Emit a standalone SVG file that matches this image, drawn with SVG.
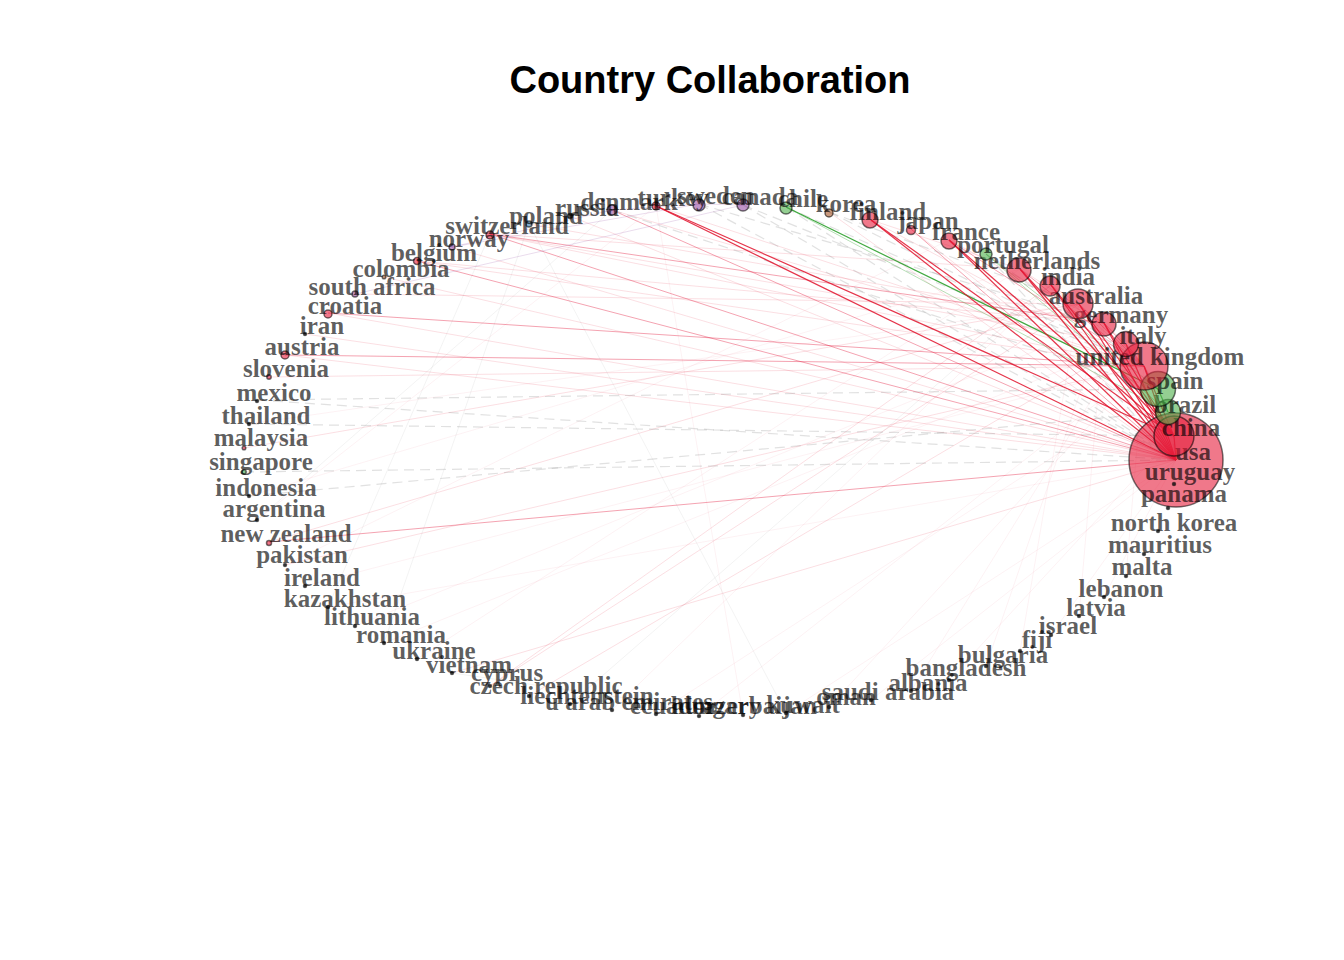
<svg xmlns="http://www.w3.org/2000/svg" width="1344" height="960" viewBox="0 0 1344 960">
<style>
.bg{fill:#fff}
.title{font-family:"Liberation Sans",Arial,sans-serif;font-weight:bold;font-size:38px;fill:#000;text-anchor:middle}
.lbl{font-family:"Liberation Serif","Times New Roman",serif;font-weight:bold;font-size:25px;fill:#000;fill-opacity:0.64;text-anchor:middle}
#edges line{fill:none}
.s{stroke:#E0102A;stroke-opacity:0.85;stroke-width:1.2}
.m{stroke:#E41A3C;stroke-opacity:0.4;stroke-width:1}
.l{stroke:#E41A3C;stroke-opacity:0.14;stroke-width:1}
.f{stroke:#E41A3C;stroke-opacity:0.06;stroke-width:1}
.gr{stroke:#999;stroke-opacity:0.12;stroke-width:1}
.g{stroke:#2CA02C;stroke-opacity:0.9;stroke-width:1.2}
.gl{stroke:#4DAF4A;stroke-opacity:0.4;stroke-width:1}
.p{stroke:#984EA3;stroke-opacity:0.2;stroke-width:1}
.d{stroke:#888;stroke-opacity:0.25;stroke-width:1.2;stroke-dasharray:10 6}
.red{fill:rgb(230,30,60);fill-opacity:0.6}
.grn{fill:#4DAF4A;fill-opacity:0.6}
.pur{fill:#984EA3;fill-opacity:0.6}
.blu{fill:#377EB8;fill-opacity:0.6}
.brn{fill:#A65628;fill-opacity:0.6}
.blk{fill:#222;fill-opacity:0.8}
.node circle{stroke:#000;stroke-opacity:0.55;stroke-width:1.5}
</style>
<rect class="bg" x="0" y="0" width="1344" height="960"/>
<text class="title" x="710" y="93">Country Collaboration</text>
<g id="edges">
<line class="f" x1="305" y1="586" x2="1144" y2="366"/>
<line class="f" x1="328" y1="607" x2="1176" y2="460"/>
<line class="f" x1="355" y1="626" x2="1104" y2="323"/>
<line class="f" x1="384" y1="643" x2="1126" y2="344"/>
<line class="f" x1="417" y1="659" x2="1020" y2="269"/>
<line class="f" x1="612" y1="710" x2="1051" y2="285"/>
<line class="f" x1="656" y1="714" x2="1158" y2="389"/>
<line class="f" x1="699" y1="716" x2="1144" y2="366"/>
<line class="f" x1="743" y1="715" x2="656" y2="206"/>
<line class="f" x1="786" y1="713" x2="1176" y2="460"/>
<line class="f" x1="829" y1="707" x2="1144" y2="366"/>
<line class="f" x1="871" y1="700" x2="1176" y2="460"/>
<line class="f" x1="911" y1="691" x2="1126" y2="344"/>
<line class="f" x1="949" y1="680" x2="1174" y2="436"/>
<line class="f" x1="986" y1="666" x2="1104" y2="323"/>
<line class="f" x1="1020" y1="651" x2="1079" y2="304"/>
<line class="f" x1="1051" y1="635" x2="1176" y2="460"/>
<line class="f" x1="1079" y1="616" x2="1104" y2="323"/>
<line class="f" x1="1104" y1="597" x2="1176" y2="460"/>
<line class="f" x1="1126" y1="576" x2="1144" y2="366"/>
<line class="f" x1="249" y1="424" x2="1079" y2="304"/>
<line class="f" x1="249" y1="496" x2="1020" y2="269"/>
<line class="f" x1="257" y1="520" x2="656" y2="206"/>
<line class="f" x1="285" y1="565" x2="949" y2="240"/>
<line class="gr" x1="384" y1="643" x2="529" y2="224"/>
<line class="gr" x1="328" y1="607" x2="490" y2="234"/>
<line class="gr" x1="257" y1="520" x2="612" y2="210"/>
<line class="gr" x1="452" y1="673" x2="743" y2="715"/>
<line class="gr" x1="570" y1="704" x2="1051" y2="285"/>
<line class="gr" x1="786" y1="713" x2="529" y2="224"/>
<line class="l" x1="328" y1="313" x2="1176" y2="460"/>
<line class="l" x1="285" y1="355" x2="1176" y2="460"/>
<line class="l" x1="490" y1="234" x2="1144" y2="366"/>
<line class="l" x1="490" y1="234" x2="1126" y2="344"/>
<line class="l" x1="490" y1="234" x2="1020" y2="269"/>
<line class="l" x1="452" y1="247" x2="1176" y2="460"/>
<line class="l" x1="417" y1="261" x2="1104" y2="323"/>
<line class="l" x1="417" y1="261" x2="1144" y2="366"/>
<line class="l" x1="384" y1="277" x2="1176" y2="460"/>
<line class="l" x1="355" y1="294" x2="1079" y2="304"/>
<line class="l" x1="305" y1="334" x2="1176" y2="460"/>
<line class="l" x1="269" y1="377" x2="1144" y2="366"/>
<line class="l" x1="244" y1="448" x2="1079" y2="304"/>
<line class="l" x1="269" y1="542" x2="1079" y2="304"/>
<line class="l" x1="490" y1="686" x2="1051" y2="285"/>
<line class="l" x1="490" y1="686" x2="1079" y2="304"/>
<line class="l" x1="529" y1="696" x2="1126" y2="344"/>
<line class="l" x1="452" y1="673" x2="1176" y2="460"/>
<line class="l" x1="285" y1="565" x2="1144" y2="366"/>
<line class="l" x1="570" y1="216" x2="1176" y2="460"/>
<line class="l" x1="529" y1="224" x2="1104" y2="323"/>
<line class="l" x1="911" y1="229" x2="1174" y2="436"/>
<line class="l" x1="829" y1="212" x2="1176" y2="460"/>
<line class="l" x1="871" y1="220" x2="1144" y2="366"/>
<line class="l" x1="871" y1="220" x2="1020" y2="269"/>
<line class="l" x1="949" y1="240" x2="1104" y2="323"/>
<line class="l" x1="1051" y1="285" x2="1144" y2="366"/>
<line class="l" x1="1020" y1="269" x2="1104" y2="323"/>
<line class="l" x1="1051" y1="285" x2="1079" y2="304"/>
<line class="l" x1="612" y1="210" x2="1144" y2="366"/>
<line class="l" x1="656" y1="206" x2="1144" y2="366"/>
<line class="l" x1="1104" y1="323" x2="1126" y2="344"/>
<line class="m" x1="328" y1="313" x2="1144" y2="366"/>
<line class="m" x1="285" y1="355" x2="1144" y2="366"/>
<line class="m" x1="490" y1="234" x2="1176" y2="460"/>
<line class="m" x1="490" y1="234" x2="1104" y2="323"/>
<line class="m" x1="911" y1="229" x2="1176" y2="460"/>
<line class="m" x1="417" y1="261" x2="1176" y2="460"/>
<line class="m" x1="269" y1="542" x2="1176" y2="460"/>
<line class="m" x1="612" y1="210" x2="1176" y2="460"/>
<line class="m" x1="1079" y1="304" x2="1144" y2="366"/>
<line class="m" x1="1104" y1="323" x2="1144" y2="366"/>
<line class="m" x1="1126" y1="344" x2="1144" y2="366"/>
<line class="m" x1="1020" y1="269" x2="1144" y2="366"/>
<line class="m" x1="949" y1="240" x2="1144" y2="366"/>
<line class="p" x1="699" y1="204" x2="743" y2="205"/>
<line class="p" x1="612" y1="210" x2="699" y2="204"/>
<line class="p" x1="452" y1="247" x2="699" y2="204"/>
<line class="p" x1="355" y1="294" x2="743" y2="205"/>
<line class="p" x1="452" y1="247" x2="612" y2="210"/>
<line class="d" x1="257" y1="400" x2="1158" y2="389"/>
<line class="d" x1="257" y1="400" x2="1176" y2="460"/>
<line class="d" x1="249" y1="424" x2="1174" y2="436"/>
<line class="d" x1="244" y1="472" x2="1176" y2="460"/>
<line class="d" x1="249" y1="496" x2="1168" y2="412"/>
<line class="d" x1="743" y1="205" x2="1176" y2="460"/>
<line class="d" x1="743" y1="205" x2="1144" y2="366"/>
<line class="d" x1="699" y1="204" x2="1176" y2="460"/>
<line class="d" x1="699" y1="204" x2="1104" y2="323"/>
<line class="d" x1="829" y1="212" x2="1144" y2="366"/>
<line class="d" x1="829" y1="212" x2="1079" y2="304"/>
<line class="d" x1="786" y1="207" x2="1176" y2="460"/>
<line class="d" x1="786" y1="207" x2="1144" y2="366"/>
<line class="d" x1="986" y1="254" x2="1176" y2="460"/>
<line class="d" x1="986" y1="254" x2="1144" y2="366"/>
<line class="d" x1="612" y1="210" x2="1158" y2="389"/>
<line class="d" x1="1168" y1="412" x2="1176" y2="460"/>
<line class="d" x1="1158" y1="389" x2="1144" y2="366"/>
<line class="gl" x1="786" y1="207" x2="1168" y2="412"/>
<line class="gl" x1="986" y1="254" x2="1168" y2="412"/>
<line class="gl" x1="986" y1="254" x2="1158" y2="389"/>
<line class="g" x1="786" y1="207" x2="1158" y2="389"/>
<line class="g" x1="1158" y1="389" x2="1168" y2="412"/>
<line class="s" x1="871" y1="220" x2="1176" y2="460"/>
<line class="s" x1="871" y1="220" x2="1174" y2="436"/>
<line class="s" x1="949" y1="240" x2="1176" y2="460"/>
<line class="s" x1="949" y1="240" x2="1174" y2="436"/>
<line class="s" x1="1020" y1="269" x2="1176" y2="460"/>
<line class="s" x1="1020" y1="269" x2="1174" y2="436"/>
<line class="s" x1="1051" y1="285" x2="1176" y2="460"/>
<line class="s" x1="1051" y1="285" x2="1174" y2="436"/>
<line class="s" x1="1079" y1="304" x2="1176" y2="460"/>
<line class="s" x1="1079" y1="304" x2="1174" y2="436"/>
<line class="s" x1="1104" y1="323" x2="1176" y2="460"/>
<line class="s" x1="1104" y1="323" x2="1174" y2="436"/>
<line class="s" x1="1126" y1="344" x2="1176" y2="460"/>
<line class="s" x1="1144" y1="366" x2="1176" y2="460"/>
<line class="s" x1="1144" y1="366" x2="1174" y2="436"/>
<line class="s" x1="656" y1="206" x2="1176" y2="460"/>
<line class="s" x1="656" y1="206" x2="1174" y2="436"/>
<line class="s" x1="1174" y1="436" x2="1176" y2="460"/>
</g>
<g id="n-usa" class="node"><circle class="red" cx="1176" cy="460" r="47"/><text class="lbl" x="1193" y="460">usa</text></g>
<g id="n-china" class="node"><circle class="red" cx="1174" cy="436" r="20"/><text class="lbl" x="1191" y="436">china</text></g>
<g id="n-brazil" class="node"><circle class="grn" cx="1168" cy="412" r="12.5"/><text class="lbl" x="1185" y="413">brazil</text></g>
<g id="n-spain" class="node"><circle class="grn" cx="1158" cy="389" r="17.5"/><text class="lbl" x="1175" y="389">spain</text></g>
<g id="n-united-kingdom" class="node"><circle class="red" cx="1144" cy="366" r="24"/><text class="lbl" x="1160" y="365">united kingdom</text></g>
<g id="n-italy" class="node"><circle class="red" cx="1126" cy="344" r="12.5"/><text class="lbl" x="1143" y="344">italy</text></g>
<g id="n-germany" class="node"><circle class="red" cx="1104" cy="324" r="12"/><text class="lbl" x="1121" y="323">germany</text></g>
<g id="n-australia" class="node"><circle class="red" cx="1078" cy="304" r="15"/><text class="lbl" x="1096" y="304">australia</text></g>
<g id="n-india" class="node"><circle class="red" cx="1050" cy="286" r="10"/><text class="lbl" x="1068" y="285">india</text></g>
<g id="n-netherlands" class="node"><circle class="red" cx="1019" cy="270" r="12"/><text class="lbl" x="1037" y="269">netherlands</text></g>
<g id="n-portugal" class="node"><circle class="grn" cx="986" cy="254" r="6"/><text class="lbl" x="1003" y="253">portugal</text></g>
<g id="n-france" class="node"><circle class="red" cx="949" cy="241" r="8"/><text class="lbl" x="966" y="240">france</text></g>
<g id="n-japan" class="node"><circle class="red" cx="911" cy="230" r="4.5"/><text class="lbl" x="928" y="229">japan</text></g>
<g id="n-finland" class="node"><circle class="red" cx="870" cy="220" r="8"/><text class="lbl" x="888" y="220">finland</text></g>
<g id="n-korea" class="node"><circle class="brn" cx="829" cy="213" r="4"/><text class="lbl" x="846" y="212">korea</text></g>
<g id="n-chile" class="node"><circle class="grn" cx="786" cy="208" r="6"/><text class="lbl" x="803" y="207">chile</text></g>
<g id="n-canada" class="node"><circle class="pur" cx="743" cy="205" r="6"/><text class="lbl" x="760" y="205">canada</text></g>
<g id="n-sweden" class="node"><circle class="pur" cx="699" cy="205" r="6"/><text class="lbl" x="716" y="204">sweden</text></g>
<g id="n-turkey" class="node"><circle class="red" cx="656" cy="206" r="4"/><text class="lbl" x="673" y="206">turkey</text></g>
<g id="n-denmark" class="node"><circle class="pur" cx="612" cy="210" r="5"/><text class="lbl" x="629" y="210">denmark</text></g>
<g id="n-russia" class="node"><circle class="blk" cx="570" cy="216" r="2.5"/><text class="lbl" x="587" y="216">russia</text></g>
<g id="n-poland" class="node"><circle class="blu" cx="529" cy="224" r="3"/><text class="lbl" x="546" y="224">poland</text></g>
<g id="n-switzerland" class="node"><circle class="red" cx="490" cy="235" r="4"/><text class="lbl" x="507" y="234">switzerland</text></g>
<g id="n-norway" class="node"><circle class="pur" cx="452" cy="247" r="3"/><text class="lbl" x="469" y="247">norway</text></g>
<g id="n-belgium" class="node"><circle class="red" cx="417" cy="261" r="3.5"/><text class="lbl" x="434" y="261">belgium</text></g>
<g id="n-colombia" class="node"><circle class="brn" cx="384" cy="277" r="1.8"/><text class="lbl" x="401" y="277">colombia</text></g>
<g id="n-south-africa" class="node"><circle class="pur" cx="355" cy="294" r="3"/><text class="lbl" x="372" y="295">south africa</text></g>
<g id="n-croatia" class="node"><circle class="red" cx="328" cy="314" r="4"/><text class="lbl" x="345" y="314">croatia</text></g>
<g id="n-iran" class="node"><circle class="blk" cx="305" cy="334" r="1.5"/><text class="lbl" x="322" y="334">iran</text></g>
<g id="n-austria" class="node"><circle class="red" cx="285" cy="355" r="4"/><text class="lbl" x="302" y="355">austria</text></g>
<g id="n-slovenia" class="node"><circle class="red" cx="269" cy="377" r="2.2"/><text class="lbl" x="286" y="377">slovenia</text></g>
<g id="n-mexico" class="node"><circle class="blk" cx="257" cy="401" r="1.5"/><text class="lbl" x="274" y="401">mexico</text></g>
<g id="n-thailand" class="node"><circle class="blk" cx="249" cy="424" r="1.5"/><text class="lbl" x="266" y="424">thailand</text></g>
<g id="n-malaysia" class="node"><circle class="red" cx="244" cy="448" r="1.8"/><text class="lbl" x="261" y="446">malaysia</text></g>
<g id="n-singapore" class="node"><circle class="grn" cx="244" cy="472" r="2.2"/><text class="lbl" x="261" y="470">singapore</text></g>
<g id="n-indonesia" class="node"><circle class="blk" cx="249" cy="496" r="1.5"/><text class="lbl" x="266" y="496">indonesia</text></g>
<g id="n-argentina" class="node"><circle class="blk" cx="257" cy="520" r="1.5"/><text class="lbl" x="274" y="517">argentina</text></g>
<g id="n-new-zealand" class="node"><circle class="red" cx="269" cy="543" r="2.5"/><text class="lbl" x="286" y="542">new zealand</text></g>
<g id="n-pakistan" class="node"><circle class="blk" cx="285" cy="565" r="1.5"/><text class="lbl" x="302" y="563">pakistan</text></g>
<g id="n-ireland" class="node"><circle class="blk" cx="305" cy="586" r="1.5"/><text class="lbl" x="322" y="586">ireland</text></g>
<g id="n-kazakhstan" class="node"><circle class="blk" cx="328" cy="607" r="1.5"/><text class="lbl" x="345" y="607">kazakhstan</text></g>
<g id="n-lithuania" class="node"><circle class="blk" cx="355" cy="626" r="1.5"/><text class="lbl" x="372" y="625">lithuania</text></g>
<g id="n-romania" class="node"><circle class="blk" cx="384" cy="643" r="1.5"/><text class="lbl" x="401" y="643">romania</text></g>
<g id="n-ukraine" class="node"><circle class="blk" cx="417" cy="659" r="1.5"/><text class="lbl" x="434" y="659">ukraine</text></g>
<g id="n-vietnam" class="node"><circle class="blk" cx="452" cy="673" r="1.5"/><text class="lbl" x="469" y="673">vietnam</text></g>
<g id="n-cyprus" class="node"><circle class="blk" cx="490" cy="686" r="1.5"/><text class="lbl" x="507" y="681">cyprus</text></g>
<g id="n-czech-republic" class="node"><circle class="blk" cx="529" cy="696" r="1.5"/><text class="lbl" x="546" y="694">czech republic</text></g>
<g id="n-liechtenstein" class="node"><circle class="blk" cx="570" cy="704" r="1.5"/><text class="lbl" x="587" y="704">liechtenstein</text></g>
<g id="n-u-arab-emirates" class="node"><circle class="blk" cx="612" cy="710" r="1.5"/><text class="lbl" x="629" y="710">u arab emirates</text></g>
<g id="n-ecuador" class="node"><circle class="blk" cx="656" cy="714" r="1.5"/><text class="lbl" x="673" y="714">ecuador</text></g>
<g id="n-hungary" class="node"><circle class="blk" cx="699" cy="716" r="1.5"/><text class="lbl" x="716" y="714">hungary</text></g>
<g id="n-azerbaijan" class="node"><circle class="blk" cx="743" cy="715" r="1.5"/><text class="lbl" x="760" y="714">azerbaijan</text></g>
<g id="n-kuwait" class="node"><circle class="blk" cx="786" cy="713" r="1.5"/><text class="lbl" x="803" y="713">kuwait</text></g>
<g id="n-oman" class="node"><circle class="blk" cx="829" cy="707" r="1.5"/><text class="lbl" x="846" y="705">oman</text></g>
<g id="n-saudi-arabia" class="node"><circle class="blk" cx="871" cy="700" r="1.5"/><text class="lbl" x="888" y="700">saudi arabia</text></g>
<g id="n-albania" class="node"><circle class="blk" cx="911" cy="691" r="1.5"/><text class="lbl" x="928" y="691">albania</text></g>
<g id="n-bangladesh" class="node"><circle class="blk" cx="949" cy="680" r="1.5"/><text class="lbl" x="966" y="676">bangladesh</text></g>
<g id="n-bulgaria" class="node"><circle class="blk" cx="986" cy="666" r="1.5"/><text class="lbl" x="1003" y="663">bulgaria</text></g>
<g id="n-fiji" class="node"><circle class="blk" cx="1020" cy="651" r="1.5"/><text class="lbl" x="1037" y="648">fiji</text></g>
<g id="n-israel" class="node"><circle class="blk" cx="1051" cy="635" r="1.5"/><text class="lbl" x="1068" y="634">israel</text></g>
<g id="n-latvia" class="node"><circle class="blk" cx="1079" cy="616" r="1.5"/><text class="lbl" x="1096" y="616">latvia</text></g>
<g id="n-lebanon" class="node"><circle class="blk" cx="1104" cy="597" r="1.5"/><text class="lbl" x="1121" y="597">lebanon</text></g>
<g id="n-malta" class="node"><circle class="blk" cx="1126" cy="576" r="1.5"/><text class="lbl" x="1142" y="575">malta</text></g>
<g id="n-mauritius" class="node"><circle class="blk" cx="1144" cy="554" r="1.5"/><text class="lbl" x="1160" y="553">mauritius</text></g>
<g id="n-north-korea" class="node"><circle class="blk" cx="1158" cy="531" r="1.5"/><text class="lbl" x="1174" y="531">north korea</text></g>
<g id="n-panama" class="node"><circle class="blk" cx="1168" cy="508" r="1.5"/><text class="lbl" x="1184" y="502">panama</text></g>
<g id="n-uruguay" class="node"><circle class="blk" cx="1174" cy="484" r="1.5"/><text class="lbl" x="1190" y="480">uruguay</text></g>
</svg>
